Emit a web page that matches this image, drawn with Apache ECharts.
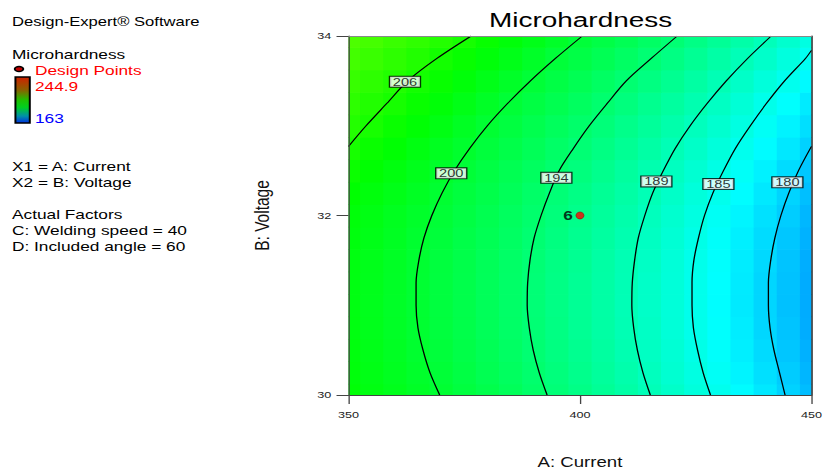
<!DOCTYPE html>
<html>
<head>
<meta charset="utf-8">
<script src="https://cdn.jsdelivr.net/npm/echarts@6.0.0/dist/echarts.min.js"></script>
<style>
html, body { margin: 0; padding: 0; background: #ffffff; overflow: hidden; }
#chart { width: 621px; height: 474px; transform: scaleX(1.3301); transform-origin: 0 0; }
</style>
</head>
<body>
<div id="chart"></div>
<script>
// ---------- data ----------
const currentTicks = [350, 400, 450];          // A: Current
const voltageTicks = [30, 32, 34];             // B: Voltage
const responseRange = [163, 244.9];            // Microhardness colour scale (min, max)

// grid of estimated Microhardness values (rows: voltage, columns: current)
const currentValues = [350, 355, 360, 365, 370, 375, 380, 385, 390, 395, 400, 405, 410, 415, 420, 425, 430, 435, 440, 445, 450];
const voltageValues = [30, 30.25, 30.5, 30.75, 31, 31.25, 31.5, 31.75, 32, 32.25, 32.5, 32.75, 33, 33.25, 33.5, 33.75, 34];
const microhardnessGrid = [
  [203.5, 202.6, 201.8, 200.9, 199.9, 198.9, 197.9, 196.8, 195.6, 194.4, 193.2, 191.9, 190.6, 189.2, 187.8, 186.3, 184.8, 183.2, 181.6, 179.9, 178.2],
  [203.1, 202.3, 201.4, 200.5, 199.5, 198.5, 197.4, 196.3, 195.2, 194.0, 192.7, 191.4, 190.1, 188.7, 187.2, 185.8, 184.2, 182.6, 181.0, 179.4, 177.6],
  [202.9, 202.0, 201.1, 200.2, 199.2, 198.2, 197.1, 196.0, 194.8, 193.6, 192.4, 191.1, 189.7, 188.3, 186.9, 185.4, 183.8, 182.2, 180.6, 178.9, 177.2],
  [202.7, 201.8, 200.9, 200.0, 199.0, 198.0, 196.9, 195.8, 194.6, 193.4, 192.1, 190.8, 189.5, 188.1, 186.6, 185.1, 183.6, 182.0, 180.3, 178.7, 176.9],
  [202.6, 201.7, 200.8, 199.9, 198.9, 197.9, 196.8, 195.7, 194.5, 193.3, 192.0, 190.7, 189.3, 187.9, 186.5, 185.0, 183.4, 181.8, 180.2, 178.5, 176.8],
  [202.6, 201.8, 200.9, 199.9, 198.9, 197.9, 196.8, 195.7, 194.5, 193.3, 192.0, 190.7, 189.4, 187.9, 186.5, 185.0, 183.5, 181.9, 180.2, 178.6, 176.8],
  [202.7, 201.9, 201.0, 200.0, 199.0, 198.0, 196.9, 195.8, 194.6, 193.4, 192.2, 190.8, 189.5, 188.1, 186.6, 185.1, 183.6, 182.0, 180.4, 178.7, 177.0],
  [202.9, 202.1, 201.2, 200.2, 199.3, 198.2, 197.2, 196.1, 194.9, 193.7, 192.4, 191.1, 189.8, 188.4, 186.9, 185.4, 183.9, 182.3, 180.7, 179.0, 177.3],
  [203.2, 202.4, 201.5, 200.6, 199.6, 198.6, 197.5, 196.4, 195.3, 194.1, 192.8, 191.5, 190.2, 188.8, 187.3, 185.9, 184.3, 182.7, 181.1, 179.5, 177.7],
  [203.9, 203.0, 202.1, 201.1, 200.0, 199.0, 198.0, 196.9, 195.7, 194.5, 193.3, 192.0, 190.7, 189.3, 187.9, 186.4, 184.9, 183.3, 181.7, 180.0, 178.3],
  [204.8, 203.8, 202.8, 201.8, 200.6, 199.5, 198.5, 197.4, 196.3, 195.1, 193.9, 192.6, 191.3, 189.9, 188.5, 187.1, 185.6, 184.0, 182.4, 180.7, 179.0],
  [205.8, 204.7, 203.7, 202.6, 201.4, 200.3, 199.1, 198.1, 197.0, 195.8, 194.6, 193.4, 192.1, 190.7, 189.3, 187.9, 186.4, 184.8, 183.2, 181.6, 179.9],
  [206.8, 205.8, 204.7, 203.6, 202.4, 201.1, 199.9, 198.8, 197.7, 196.6, 195.4, 194.2, 192.9, 191.6, 190.2, 188.8, 187.3, 185.8, 184.2, 182.5, 180.9],
  [207.6, 206.6, 205.7, 204.6, 203.4, 202.2, 200.9, 199.6, 198.6, 197.5, 196.3, 195.1, 193.9, 192.5, 191.2, 189.8, 188.3, 186.8, 185.2, 183.6, 181.9],
  [208.4, 207.6, 206.6, 205.5, 204.5, 203.2, 202.0, 200.7, 199.5, 198.4, 197.3, 196.1, 194.9, 193.6, 192.3, 190.9, 189.4, 187.9, 186.4, 184.8, 183.1],
  [209.3, 208.5, 207.6, 206.6, 205.5, 204.5, 203.2, 202.0, 200.7, 199.4, 198.3, 197.2, 196.0, 194.7, 193.4, 192.1, 190.6, 189.2, 187.7, 186.1, 184.4],
  [210.1, 209.5, 208.5, 207.7, 206.8, 205.7, 204.5, 203.2, 202.0, 200.7, 199.4, 198.3, 197.2, 195.9, 194.7, 193.3, 191.9, 190.5, 189.0, 187.4, 185.8]
];

// contour lines: [current, voltage] points
const contourLevels = [206, 200, 194, 189, 185, 180];
const contour206 = [[350, 32.77], [353.8, 33], [358.3, 33.25], [362.8, 33.5], [369.1, 33.75], [376.5, 34]];
const contour200 = [[369.7, 30], [367.6, 30.25], [366.1, 30.5], [365.0, 30.75], [364.6, 31], [364.6, 31.25], [365.2, 31.5], [366.3, 31.75],
                    [368.0, 32], [370.2, 32.25], [372.9, 32.5], [376.2, 32.75], [380.0, 33], [384.4, 33.25], [389.3, 33.5], [394.7, 33.75], [400.5, 34]];
const contour194 = [[392.9, 30], [391.2, 30.25], [389.9, 30.5], [389.05, 30.75], [388.6, 31], [388.7, 31.25], [389.2, 31.5], [390.1, 31.75],
                    [391.6, 32], [393.4, 32.25], [395.5, 32.5], [398.6, 32.75], [402.0, 33], [405.9, 33.25], [410.0, 33.5], [415.4, 33.75], [421.0, 34]];
const contour189 = [[415.2, 30], [413.6, 30.25], [412.4, 30.5], [411.6, 30.75], [411.2, 31], [411.3, 31.25], [411.8, 31.5], [412.6, 31.75],
                    [414.0, 32], [415.7, 32.25], [418.0, 32.5], [420.6, 32.75], [423.8, 33], [427.5, 33.25], [431.6, 33.5], [436.2, 33.75], [441.3, 34]];
const contour185 = [[428.2, 30], [426.6, 30.25], [425.4, 30.5], [424.5, 30.75], [424.2, 31], [424.2, 31.25], [424.6, 31.5], [425.6, 31.75],
                    [426.9, 32], [428.7, 32.25], [431.0, 32.5], [433.6, 32.75], [436.8, 33], [440.3, 33.25], [444.2, 33.5], [448.7, 33.75], [450, 33.84]];
const contour180 = [[444.3, 30], [443.1, 30.25], [441.9, 30.5], [441.05, 30.75], [440.7, 31], [440.7, 31.25], [441.2, 31.5], [442.1, 31.75],
                    [443.4, 32], [445.1, 32.25], [447.2, 32.5], [450, 32.77]];
const contourLines = [contour206, contour200, contour194, contour189, contour185, contour180];
// where each contour label sits (current, voltage)
const contourLabelAt = [[362.2, 33.49], [372.2, 32.47], [394.9, 32.42], [416.5, 32.38], [429.9, 32.35], [444.8, 32.37]];

// design points: [current, voltage, replicates]
const designPoints = [[400, 32, 6]];

// ---------- build chart ----------
const FONT = '"Liberation Sans", Arial, sans-serif';
const heatData = [];
voltageValues.forEach((b, i) => {
  currentValues.forEach((a, j) => { heatData.push([a, b, microhardnessGrid[i][j]]); });
});
const halfA = (currentValues[1] - currentValues[0]) / 2;
const halfB = (voltageValues[1] - voltageValues[0]) / 2;

const chart = echarts.init(document.getElementById('chart'), null, { renderer: 'svg' });

const series = [{
  type: 'custom',
  z: 1,
  silent: true,
  data: heatData,
  encode: { x: 0, y: 1 },
  renderItem: function (params, api) {
    const a = api.value(0), b = api.value(1);
    const p1 = api.coord([a - halfA, b + halfB]);
    const p2 = api.coord([a + halfA, b - halfB]);
    const cs = params.coordSys;
    const x0 = Math.max(p1[0], cs.x), y0 = Math.max(p1[1], cs.y);
    const x1 = Math.min(p2[0] + 0.7, cs.x + cs.width);
    const y1 = Math.min(p2[1] + 0.7, cs.y + cs.height);
    return {
      type: 'rect',
      shape: { x: x0, y: y0, width: x1 - x0, height: y1 - y0 },
      style: { fill: api.visual('color'), stroke: null }
    };
  }
}];

contourLines.forEach((pts, i) => {
  series.push({
    type: 'line',
    name: 'contour ' + contourLevels[i],
    data: pts,
    smooth: 0.3,
    symbol: 'none',
    z: 3,
    silent: true,
    lineStyle: { color: '#000', width: 1 }
  });
});

series.push({
  type: 'scatter',
  z: 4,
  silent: true,
  symbolSize: 1,
  itemStyle: { color: 'rgba(0,0,0,0)' },
  data: contourLabelAt.map((p, i) => [p[0], p[1], contourLevels[i]]),
  label: {
    show: true, position: 'inside',
    formatter: p => String(p.value[2]),
    backgroundColor: '#ffffff', borderColor: '#000', borderWidth: 1,
    padding: [0, 2, 0, 2], fontSize: 11, lineHeight: 10, color: '#000', fontFamily: FONT
  }
});

series.push({
  type: 'scatter',
  z: 5,
  silent: true,
  symbol: 'circle',
  symbolSize: [6, 7],
  itemStyle: { color: '#ff0000', borderColor: '#9a0000', borderWidth: 0.6 },
  data: designPoints,
  label: {
    show: true, position: 'left', distance: 2,
    formatter: p => String(p.value[2]),
    fontWeight: 'bold', fontSize: 13, color: '#000', fontFamily: FONT
  }
});

const axisCommon = {
  type: 'value', z: 6,
  splitLine: { show: false },
  axisLine: { show: true, lineStyle: { color: '#444', width: 1 } },
  axisTick: { show: true, length: 9, lineStyle: { color: '#444', width: 1 } },
  axisLabel: { color: '#222', fontSize: 9.5, fontFamily: FONT }
};

const panelText = (text, x, y, fill, size) => ({
  type: 'text', x: x, y: y, silent: true,
  style: { text: text, fill: fill || '#000', fontSize: size || 13, fontFamily: FONT, align: 'left', verticalAlign: 'middle' }
});

chart.setOption({
  animation: false,
  backgroundColor: '#ffffff',
  title: {
    text: 'Microhardness', left: 436.5, top: 9, padding: 0, textAlign: 'center',
    textStyle: { fontSize: 21, fontWeight: 'normal', color: '#000', fontFamily: FONT }
  },
  grid: { left: 262, top: 36, width: 349.5, height: 360, show: false },
  visualMap: {
    show: false, type: 'continuous', seriesIndex: 0, dimension: 2,
    min: responseRange[0], max: responseRange[1],
    inRange: { color: ['#0000ff', '#00ffff', '#00ff00', '#ffff00', '#ff0000'] }
  },
  xAxis: [
    Object.assign({}, axisCommon, {
      min: currentTicks[0], max: currentTicks[currentTicks.length - 1], interval: currentTicks[1] - currentTicks[0],
      axisLabel: Object.assign({}, axisCommon.axisLabel, { margin: 15 }),
      name: 'A: Current', nameLocation: 'middle', nameGap: 60,
      nameTextStyle: { fontSize: 14, color: '#111', fontFamily: FONT }
    }),
    { type: 'value', position: 'top', z: 6, min: currentTicks[0], max: currentTicks[currentTicks.length - 1],
      axisLine: { show: true, lineStyle: { color: '#888' } }, axisTick: { show: false }, axisLabel: { show: false }, splitLine: { show: false } }
  ],
  yAxis: [
    Object.assign({}, axisCommon, {
      min: voltageTicks[0], max: voltageTicks[voltageTicks.length - 1], interval: voltageTicks[1] - voltageTicks[0],
      axisLabel: Object.assign({}, axisCommon.axisLabel, { margin: 13 }),
      name: 'B: Voltage', nameLocation: 'middle', nameGap: 57,
      nameTextStyle: { fontSize: 15.5, color: '#111', fontFamily: FONT }
    }),
    { type: 'value', position: 'right', z: 6, min: voltageTicks[0], max: voltageTicks[voltageTicks.length - 1],
      axisLine: { show: true, lineStyle: { color: '#111' } }, axisTick: { show: false }, axisLabel: { show: false }, splitLine: { show: false } }
  ],
  graphic: [
    panelText('Design-Expert\u00ae Software', 9, 21.3, '#000', 12.5),
    panelText('Microhardness', 9, 54),
    { type: 'ellipse', silent: true, shape: { cx: 14.3, cy: 69, rx: 3.2, ry: 2.5 },
      style: { fill: '#c00000', stroke: '#000', lineWidth: 1.5 } },
    panelText('Design Points', 26.3, 70, '#ff0000'),
    { type: 'rect', silent: true, shape: { x: 11.6, y: 77, width: 10.8, height: 46 },
      style: {
        fill: new echarts.graphic.LinearGradient(0, 0, 0, 1, [
          { offset: 0, color: '#d02000' }, { offset: 0.28, color: '#8a6000' },
          { offset: 0.5, color: '#20c000' }, { offset: 0.66, color: '#00d020' },
          { offset: 0.85, color: '#0090a8' }, { offset: 1, color: '#0030e0' }
        ]),
        stroke: '#000', lineWidth: 1.5
      } },
    panelText(String(responseRange[1]), 26.3, 86, '#ff0000'),
    panelText(String(responseRange[0]), 26.3, 118, '#0000ff'),
    panelText('X1 = A: Current', 9, 166),
    panelText('X2 = B: Voltage', 9, 182),
    panelText('Actual Factors', 9, 214),
    panelText('C: Welding speed = 40', 9, 230),
    panelText('D: Included angle = 60', 9, 246)
  ],
  series: series
});
</script>
</body>
</html>
